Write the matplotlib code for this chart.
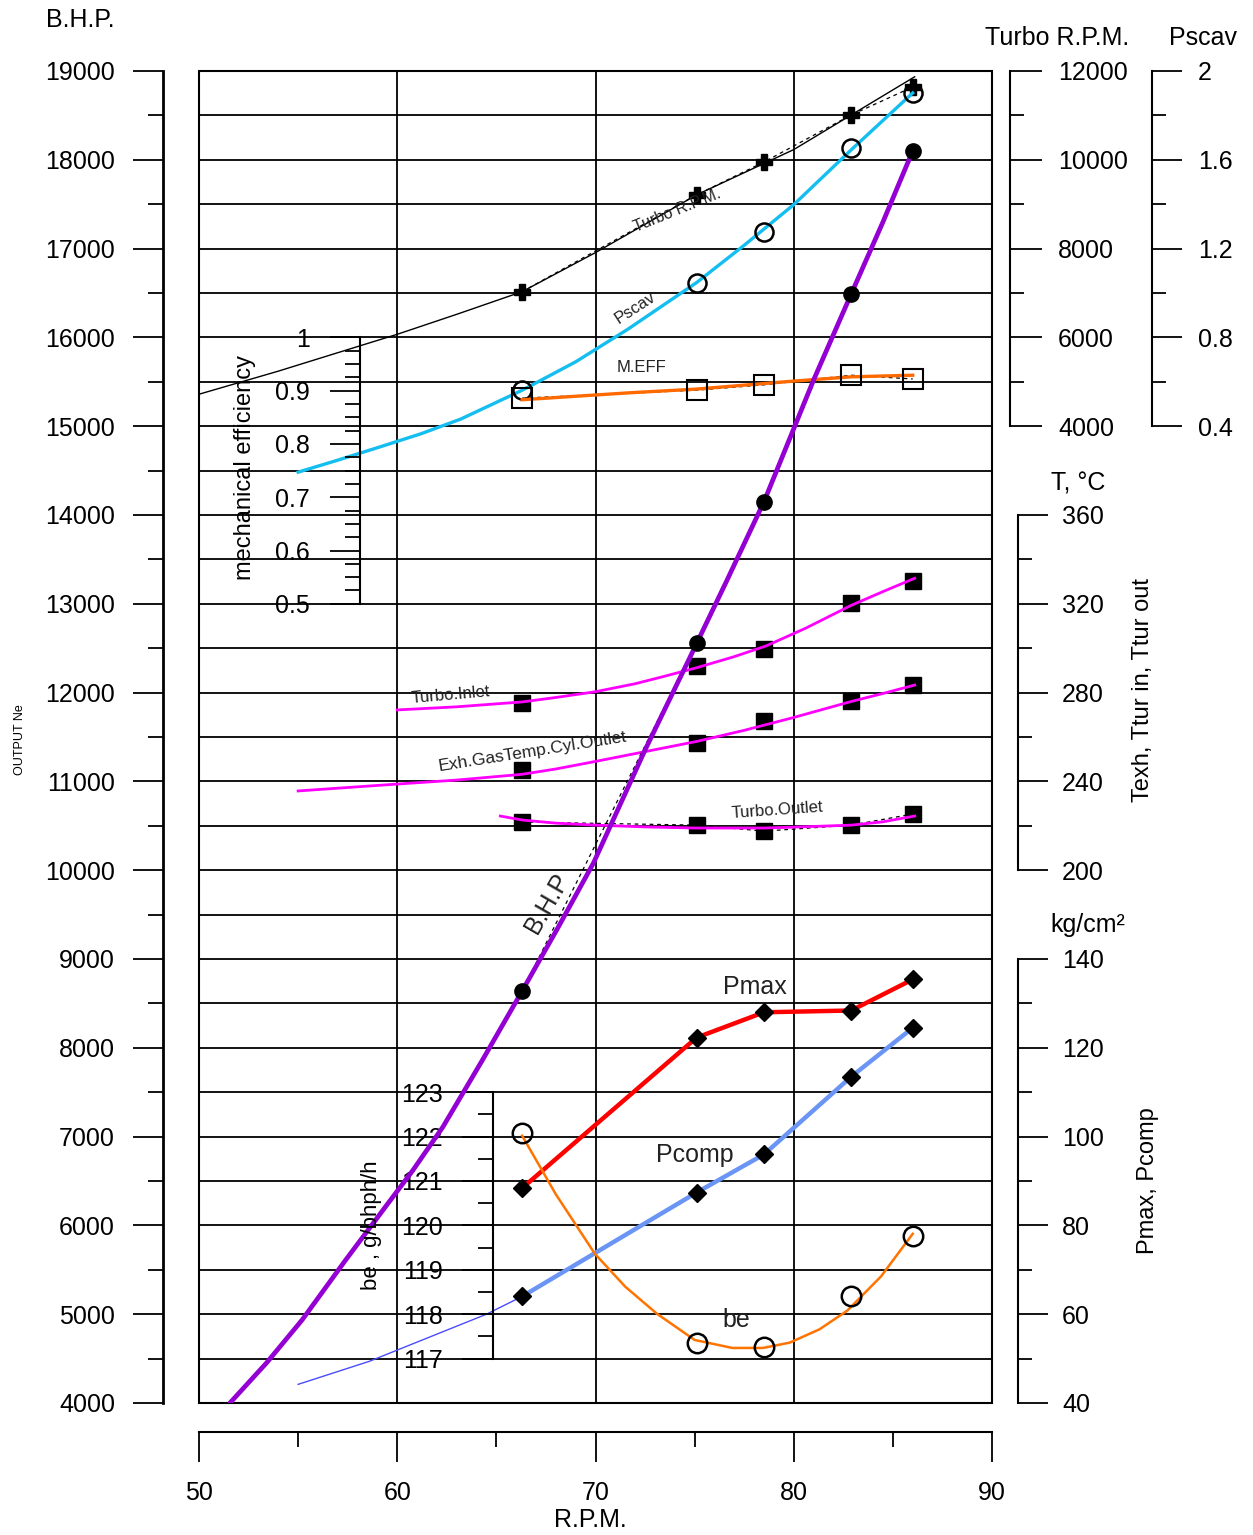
import numpy as np
import matplotlib.pyplot as plt
from matplotlib.patches import Rectangle

plt.rcParams['font.family'] = ['Liberation Sans', 'DejaVu Sans']

# measured points at the five test loads
rpm = [66.3, 75.1, 78.5, 82.9, 86.0]
bhp = [8640, 12560, 14150, 16490, 18100]
turbo_rpm = [7030, 9210, 9950, 11010, 11640]
pscav = [0.562, 1.047, 1.276, 1.654, 1.901]
m_eff = [0.886, 0.901, 0.911, 0.929, 0.922]
t_turbo_in = [275.3, 292.0, 299.6, 320.4, 330.3]
t_exh = [245.1, 257.3, 267.2, 276.2, 283.4]
t_turbo_out = [221.7, 220.3, 217.6, 220.3, 225.3]
p_max = [88.4, 122.3, 128.0, 128.4, 135.4]
p_comp = [64.0, 87.4, 96.0, 113.5, 124.5]
be = [122.09, 117.36, 117.27, 118.40, 119.77]

# faired curves
bhp_c_rpm = [51.6, 53.4, 55.2, 57.4, 59.4, 60.8, 62.3, 64.3, 66.3, 68.1, 69.9, 72.5,
             74.7, 76.6, 78.5, 81.0, 82.9, 84.5, 86.0]
bhp_c = [4010, 4450, 4935, 5611, 6208, 6624, 7108, 7863, 8640, 9350, 10082, 11354,
         12367, 13250, 14150, 15520, 16490, 17300, 18100]
turbo_c_rpm = [50.0, 54.0, 57.9, 60.0, 63.0, 66.3, 70.0, 75.1, 80.0, 82.9, 86.1]
turbo_c = [4720, 5240, 5780, 6070, 6520, 7030, 7910, 9210, 10230, 11010, 11870]
pscav_c_rpm = [55.0, 57.0, 59.1, 61.2, 63.2, 66.3, 69.0, 71.6, 75.1, 77.5, 80.0, 82.9, 86.0]
pscav_c = [0.193, 0.247, 0.306, 0.366, 0.432, 0.562, 0.690, 0.835, 1.047, 1.215, 1.398, 1.645, 1.901]
meff_c_rpm = [66.3, 71.7, 75.1, 80.0, 82.9, 86.0]
meff_c = [0.883, 0.896, 0.903, 0.918, 0.926, 0.929]
tin_c_rpm = [60.0, 63.0, 66.3, 68.0, 70.0, 72.0, 73.5, 75.1, 77.0, 78.6, 80.6, 82.9, 84.5, 86.1]
tin_c = [272.2, 273.6, 275.8, 277.8, 280.4, 284.0, 287.4, 291.2, 296.2, 301.0, 309.0, 319.3, 325.5, 331.5]
texh_c_rpm = [55.0, 60.0, 63.0, 66.3, 68.0, 70.0, 72.5, 75.1, 77.5, 80.0, 82.9, 84.5, 86.1]
texh_c = [235.7, 238.8, 240.6, 243.2, 245.6, 249.0, 253.4, 258.0, 263.0, 268.8, 276.0, 279.6, 283.4]
tout_c_rpm = [65.2, 66.3, 68.0, 70.0, 72.5, 75.0, 78.5, 80.0, 82.9, 84.5, 86.1]
tout_c = [224.4, 222.6, 221.2, 220.3, 219.5, 219.0, 219.0, 219.4, 220.3, 221.8, 224.4]
pcomp_ext_rpm = [55.0, 58.6, 60.1, 64.5, 66.3]
pcomp_ext = [44.2, 49.4, 52.1, 60.0, 64.0]
be_c_rpm = [66.3, 68.0, 69.97, 71.5, 73.1, 75.0, 76.9, 78.45, 79.8, 81.3, 82.7, 84.4, 86.0]
be_c = [122.02, 120.70, 119.36, 118.62, 118.01, 117.42, 117.24, 117.24, 117.36, 117.66,
        118.08, 118.85, 119.81]

W, H = 1253, 1535
PT = 0.72  # points per pixel at 100 dpi
fig = plt.figure(figsize=(W / 100, H / 100), dpi=100)


def fx(x):
    return x / W


def fy(y):
    return 1 - y / H


ax = fig.add_axes([fx(199), fy(1403), (992 - 199) / W, (1403 - 71) / H])
ax.set_xlim(50, 90)
ax.set_ylim(4000, 19000)
ax.set_axisbelow(True)
for s in ('top', 'right'):
    ax.spines[s].set_visible(False)
ax.spines['left'].set_position(('outward', 36 * PT))
ax.spines['left'].set_linewidth(2)
ax.spines['bottom'].set_position(('outward', 29 * PT))
ax.spines['bottom'].set_linewidth(1.5)
ax.set_yticks(range(4000, 19001, 1000))
ax.set_yticks(range(4500, 19000, 1000), minor=True)
ax.set_xticks(range(50, 91, 10))
ax.set_xticks(range(55, 90, 10), minor=True)
ax.tick_params(which='major', length=30 * PT, width=1.3, labelsize=18)
ax.tick_params(axis='y', which='major', pad=13)
ax.tick_params(axis='x', which='major', pad=14)
ax.tick_params(which='minor', length=15 * PT, width=1.3)
ax.grid(axis='y', which='both', color='black', lw=1.3)
ax.grid(axis='x', which='major', color='black', lw=1.3)
ax.add_patch(Rectangle((0, 0), 1, 1, transform=ax.transAxes, fill=False,
                       lw=1.5, ec='black', clip_on=False, zorder=1))


def scale_axis(side, pos, lim, bounds, major, minor, labels, mlen, nlen, pad):
    t = ax.twinx()
    t.set_ylim(*lim)
    for s in t.spines.values():
        s.set_visible(False)
    sp = t.spines[side]
    sp.set_visible(True)
    sp.set_position(pos)
    sp.set_bounds(*bounds)
    sp.set_linewidth(1.5)
    if side == 'left':
        t.yaxis.tick_left()
    else:
        t.yaxis.tick_right()
    t.set_yticks(major)
    t.set_yticklabels(labels)
    t.set_yticks(minor, minor=True)
    t.tick_params(which='major', length=mlen * PT, width=1.3, pad=pad * PT, labelsize=18)
    t.tick_params(which='minor', length=nlen * PT, width=1.3)
    return t


ax_turbo = scale_axis('right', ('outward', 18 * PT), (-18000, 12000), (4000, 12000),
                      [4000, 6000, 8000, 10000, 12000], [5000, 7000, 9000, 11000],
                      ['4000', '6000', '8000', '10000', '12000'], 32, 14, 16)
ax_pscav = scale_axis('right', ('outward', 160 * PT), (-4, 2), (0.4, 2),
                      [0.4, 0.8, 1.2, 1.6, 2.0], [0.6, 1.0, 1.4, 1.8],
                      ['0.4', '0.8', '1.2', '1.6', '2'], 30, 14, 16)
ax_temp = scale_axis('right', ('outward', 26 * PT), (-40, 560), (200, 360),
                     [200, 240, 280, 320, 360], [220, 260, 300, 340],
                     ['200', '240', '280', '320', '360'], 30, 14, 14)
ax_pres = scale_axis('right', ('outward', 26 * PT), (40, 340), (40, 140),
                     list(range(40, 141, 20)), list(range(50, 140, 20)),
                     [str(v) for v in range(40, 141, 20)], 30, 14, 14)
ax_meff = scale_axis('left', ('data', 58.12), (-1, 1.5), (0.5, 1.0),
                     [0.5, 0.6, 0.7, 0.8, 0.9, 1.0],
                     [0.5 + 0.025 * i for i in range(1, 20) if i % 4],
                     ['0.5', '0.6', '0.7', '0.8', '0.9', '1'], 30, 15, 20)
ax_be = scale_axis('left', ('data', 64.83), (116, 146), (117, 123),
                   list(range(117, 124)), [117.5 + i for i in range(6)],
                   [str(v) for v in range(117, 124)], 31, 15, 19)

dash = dict(color='black', lw=0.9, ls=(0, (3, 3)))

# turbocharger speed
ax_turbo.plot(rpm, turbo_rpm, **dash)
ax_turbo.plot(turbo_c_rpm, turbo_c, color='black', lw=1.0)
ax_turbo.plot(rpm, turbo_rpm, ls='none', marker='P', ms=12, color='black')

# scavenge pressure
ax_pscav.plot(pscav_c_rpm, pscav_c, color='#14BEF0', lw=2.4)
ax_pscav.plot(rpm, pscav, ls='none', marker='o', ms=13, mfc='none', mec='black', mew=1.8)

# mechanical efficiency
ax_meff.plot(rpm, m_eff, **dash)
ax_meff.plot(meff_c_rpm, meff_c, color='#FF6A00', lw=2.4)
ax_meff.plot(rpm, m_eff, ls='none', marker='s', ms=14, mfc='none', mec='black', mew=1.5)

# exhaust temperatures
ax_temp.plot(rpm, t_turbo_out, **dash)
for c_rpm, c_val, vals in ((tin_c_rpm, tin_c, t_turbo_in),
                           (texh_c_rpm, texh_c, t_exh),
                           (tout_c_rpm, tout_c, t_turbo_out)):
    ax_temp.plot(rpm, vals, ls='none', marker='s', ms=12, color='black')
    ax_temp.plot(c_rpm, c_val, color='#FF00FF', lw=2.0)

# cylinder pressures
ax_pres.plot(rpm, p_max, color='#FF0000', lw=3.2, marker='D', ms=9, mfc='black', mec='black')
ax_pres.plot(pcomp_ext_rpm, pcomp_ext, color='#4B4BFF', lw=1.0)
ax_pres.plot(rpm, p_comp, color='#6A95F5', lw=3.2, marker='D', ms=9, mfc='black', mec='black')

# specific fuel consumption
ax_be.plot(be_c_rpm, be_c, color='#FF7400', lw=1.8)
ax_be.plot(rpm, be, ls='none', marker='o', ms=14, mfc='none', mec='black', mew=1.8)

# brake horse power
ax_bhp = ax.twinx()
ax_bhp.set_ylim(4000, 19000)
ax_bhp.axis('off')
ax_bhp.plot(rpm, bhp, **dash)
ax_bhp.plot(bhp_c_rpm, bhp_c, color='#9400D3', lw=3.4)
ax_bhp.plot(rpm, bhp, ls='none', marker='o', ms=11, color='black')

# axis titles
fig.text(fx(80), fy(20), 'B.H.P.', ha='center', va='center', fontsize=18)
fig.text(fx(20), fy(740), 'OUTPUT Ne', ha='center', va='center', fontsize=9, rotation=90)
fig.text(fx(590), fy(1520), 'R.P.M.', ha='center', va='center', fontsize=18)
fig.text(fx(1057), fy(38), 'Turbo R.P.M.', ha='center', va='center', fontsize=18)
fig.text(fx(1203), fy(38), 'Pscav', ha='center', va='center', fontsize=18)
fig.text(fx(1078), fy(484), 'T, \u00b0C', ha='center', va='center', fontsize=18)
fig.text(fx(1088), fy(925), 'kg/cm\u00b2', ha='center', va='center', fontsize=18)
fig.text(fx(1143), fy(690), 'Texh, Ttur in, Ttur out', ha='center', va='center',
         fontsize=17, rotation=90)
fig.text(fx(1148), fy(1181), 'Pmax, Pcomp', ha='center', va='center', fontsize=17, rotation=90)
fig.text(fx(245), fy(468), 'mechanical efficiency', ha='center', va='center',
         fontsize=17, rotation=90)
fig.text(fx(372), fy(1225), 'be , g/bhph/h', ha='center', va='center', fontsize=16, rotation=90)

# curve labels
curve_labels = [
    ('Turbo R.P.M.', 677, 210, 22, 11.5),
    ('Pscav', 635, 308, 33, 12),
    ('M.EFF', 642, 368, 0, 12),
    ('Turbo.Inlet', 451, 695, 5, 12),
    ('Exh.GasTemp.Cyl.Outlet', 533, 752, 9, 12.5),
    ('Turbo.Outlet', 777, 810, 4, 12),
    ('B.H.P', 547, 903, 60, 18),
    ('Pmax', 755, 987, 0, 18),
    ('Pcomp', 695, 1155, 0, 18),
    ('be', 736, 1320, 0, 18),
]
for txt, x, y, rot, size in curve_labels:
    fig.text(fx(x), fy(y), txt, ha='center', va='center', fontsize=size,
             rotation=rot, color='#222222')

fig.savefig('out.png', dpi=100)
